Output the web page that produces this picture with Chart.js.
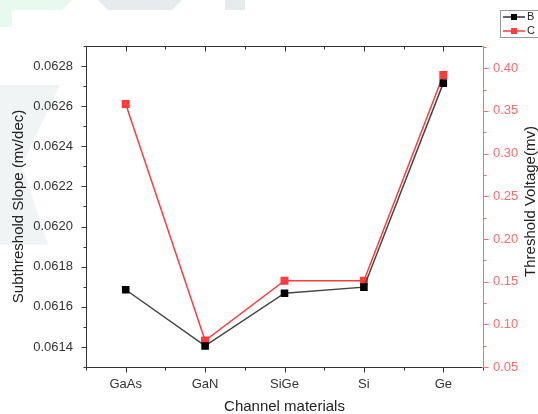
<!DOCTYPE html>
<html>
<head>
<meta charset="utf-8">
<script src="https://cdn.jsdelivr.net/npm/chart.js@4.4.0/dist/chart.umd.min.js"></script>
<style>
html, body { margin: 0; padding: 0; background: #fff; }
</style>
</head>
<body>
<canvas id="chart" width="538" height="414"></canvas>
<script>
// data
const materials = ["GaAs", "GaN", "SiGe", "Si", "Ge"];
const slopeB = [0.061685, 0.061405, 0.061668, 0.061698, 0.062715];
const voltageC = [0.358, 0.081, 0.151, 0.151, 0.392];
const slopeTicks = [0.0614, 0.0616, 0.0618, 0.0620, 0.0622, 0.0624, 0.0626, 0.0628];
const voltageTicks = [0.05, 0.10, 0.15, 0.20, 0.25, 0.30, 0.35, 0.40];

const RED = "#ff3b3b";
const RED_AXIS = "#ff6a6a";
const FONT = "'Liberation Sans', Arial, sans-serif";
Chart.defaults.font.family = FONT;

// faint watermark shapes behind everything
const watermark = {
    id: "watermark",
    beforeDraw(chart) {
        const ctx = chart.ctx;
        const poly = (pts, color) => {
            ctx.beginPath();
            ctx.moveTo(pts[0][0], pts[0][1]);
            pts.slice(1).forEach(p => ctx.lineTo(p[0], p[1]));
            ctx.closePath();
            ctx.fillStyle = color;
            ctx.fill();
        };
        ctx.save();
        poly([[0, 0], [72, 0], [62, 10], [12, 10], [12, 27], [0, 27]], "#e8faf0");
        poly([[98, 0], [182, 0], [172, 10], [108, 10]], "#e6ebed");
        poly([[225, 0], [245, 0], [245, 10], [225, 10]], "#e6ebed");
        poly([[0, 85], [60, 85], [22, 165], [48, 245], [0, 245]], "#f1f4f5");
        ctx.restore();
    }
};

// axis frame with major and minor ticks, plus right title read bottom-up
const frame = {
    id: "frame",
    beforeDatasetsDraw(chart) {
        const { ctx, chartArea: a, scales } = chart;
        const sx = scales.x, sy = scales.y, sy1 = scales.y1;
        const L = Math.round(a.left) + 0.5, R = Math.round(a.right) - 0.5;
        const T = Math.round(a.top) + 0.5, B = Math.round(a.bottom) + 0.5;
        const seg = (x1, y1, x2, y2) => {
            ctx.beginPath();
            ctx.moveTo(x1, y1);
            ctx.lineTo(x2, y2);
            ctx.stroke();
        };
        ctx.save();
        ctx.lineWidth = 1;
        ctx.strokeStyle = "#333";
        seg(L, T, R, T);
        seg(L, B, R, B);
        seg(L, T, L, B);

        // x ticks: major at categories, minor at boundaries
        for (let i = 0; i < materials.length; i++) {
            const px = Math.round(sx.getPixelForValue(i)) + 0.5;
            seg(px, B, px, B + 5);
            seg(px, T, px, T + 5);
        }
        for (let i = 0; i <= materials.length; i++) {
            const px = Math.round(sx.getPixelForValue(i - 0.5)) + 0.5;
            seg(px, B, px, B + 3);
            seg(px, T, px, T + 3);
        }

        const drawTicks = (scale, list, x, dir) => {
            const step = list[1] - list[0];
            list.forEach(v => {
                const py = Math.round(scale.getPixelForValue(v)) + 0.5;
                seg(x, py, x + dir * 5, py);
            });
            const minors = [list[0] - step / 2];
            list.forEach(v => minors.push(v + step / 2));
            minors.forEach(v => {
                if (v < scale.min - 1e-9 || v > scale.max + 1e-9) return;
                const py = Math.round(scale.getPixelForValue(v)) + 0.5;
                seg(x, py, x + dir * 3, py);
            });
        };
        drawTicks(sy, slopeTicks, L, -1);

        ctx.strokeStyle = RED_AXIS;
        seg(R + 1, T, R + 1, B);
        drawTicks(sy1, voltageTicks, R + 1, 1);

        // right axis title
        ctx.translate(531, (a.top + a.bottom) / 2 - 5);
        ctx.rotate(-Math.PI / 2);
        ctx.font = "15px " + FONT;
        ctx.fillStyle = "#222";
        ctx.textAlign = "center";
        ctx.textBaseline = "middle";
        ctx.fillText("Threshold Voltage(mv)", 0, 0);
        ctx.restore();
    }
};

// small legend box at top right
const legendBox = {
    id: "legendBox",
    afterDraw(chart) {
        const ctx = chart.ctx;
        ctx.save();
        ctx.strokeStyle = "#999";
        ctx.lineWidth = 1;
        ctx.strokeRect(500.5, 10.5, 50, 27);
        const items = [["B", "#000", "#333", 17], ["C", RED, RED, 31]];
        ctx.font = "11px " + FONT;
        ctx.textBaseline = "middle";
        items.forEach(([label, mark, lineColor, y]) => {
            ctx.strokeStyle = lineColor;
            ctx.lineWidth = 1.5;
            ctx.beginPath();
            ctx.moveTo(503, y);
            ctx.lineTo(525, y);
            ctx.stroke();
            ctx.fillStyle = mark;
            ctx.fillRect(511, y - 3, 6, 6);
            ctx.fillStyle = "#222";
            ctx.fillText(label, 527, y);
        });
        ctx.restore();
    }
};

new Chart(document.getElementById("chart"), {
    type: "line",
    plugins: [watermark, frame, legendBox],
    data: {
        labels: materials,
        datasets: [
            {
                label: "B",
                data: slopeB,
                yAxisID: "y",
                borderColor: "#444",
                borderWidth: 1.5,
                backgroundColor: "#000",
                pointBackgroundColor: "#000",
                pointBorderColor: "#000",
                pointStyle: "rect",
                pointRadius: 4.3,
                tension: 0,
            },
            {
                label: "C",
                data: voltageC,
                yAxisID: "y1",
                borderColor: RED,
                borderWidth: 1.5,
                backgroundColor: RED,
                pointBackgroundColor: RED,
                pointBorderColor: RED,
                pointStyle: "rect",
                pointRadius: 4.6,
                tension: 0,
            },
        ],
    },
    options: {
        responsive: false,
        animation: false,
        layout: { padding: { top: 46, left: 0, right: 0, bottom: 0 } },
        plugins: {
            legend: { display: false },
            tooltip: { enabled: false },
        },
        scales: {
            x: {
                type: "category",
                offset: true,
                grid: { display: false, drawTicks: false },
                border: { display: false },
                ticks: { color: "#333", font: { size: 13 }, padding: 10, maxRotation: 0 },
                title: {
                    display: true,
                    text: "Channel materials",
                    color: "#222",
                    font: { size: 15, lineHeight: 1 },
                    padding: 0,
                },
                afterFit(s) { s.height = 47; },
            },
            y: {
                position: "left",
                min: 0.0613,
                max: 0.0629,
                grid: { display: false, drawTicks: false },
                border: { display: false },
                afterBuildTicks(s) { s.ticks = slopeTicks.map(v => ({ value: v })); },
                ticks: {
                    color: "#333",
                    font: { size: 13 },
                    padding: 13,
                    callback: v => v.toFixed(4),
                },
                title: {
                    display: true,
                    text: "Subthreshold Slope (mv/dec)",
                    color: "#222",
                    font: { size: 15, lineHeight: 1.2 },
                    padding: { top: 10, bottom: 0 },
                },
                afterFit(s) { s.width = 86; },
            },
            y1: {
                position: "right",
                min: 0.05,
                max: 0.426,
                grid: { display: false, drawTicks: false },
                border: { display: false },
                afterBuildTicks(s) { s.ticks = voltageTicks.map(v => ({ value: v })); },
                ticks: {
                    color: RED_AXIS,
                    font: { size: 13 },
                    padding: 10,
                    callback: v => v.toFixed(2),
                },
                title: { display: false },
                afterFit(s) { s.width = 55; },
            },
        },
    },
});
</script>
</body>
</html>
